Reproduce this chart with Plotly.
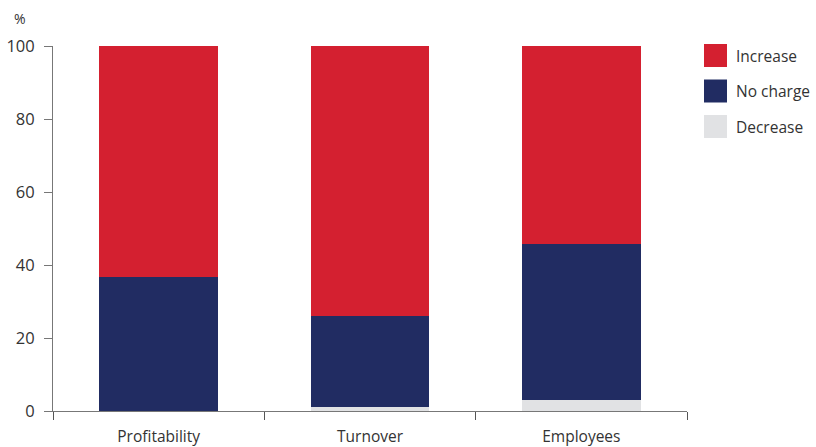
import plotly.graph_objects as go

categories = ["Profitability", "Turnover", "Employees"]
decrease = [0.0, 1.0, 3.1]
no_change = [36.8, 25.1, 42.7]
increase = [63.2, 73.9, 54.2]
series_names = ["Increase", "No charge", "Decrease"]
y_ticks = [0, 20, 40, 60, 80, 100]

colors = {"Increase": "#D42030", "No charge": "#212C62", "Decrease": "#E1E2E4"}
font_family = "'Open Sans', 'Noto Sans', sans-serif"
text_color = "#333333"

W, H = 816, 447
ML, MR, MT, MB = 53, 129, 46, 36
PW, PH = W - ML - MR, H - MT - MB

fig = go.Figure()
for name, vals in [("Decrease", decrease), ("No charge", no_change), ("Increase", increase)]:
    fig.add_trace(go.Bar(x=categories, y=vals, name=name, marker_color=colors[name],
                         marker_line_width=0, showlegend=False))

fig.update_layout(
    barmode="stack", bargap=0.44,
    width=W, height=H,
    margin=dict(l=ML, r=MR, t=MT, b=MB, autoexpand=False),
    plot_bgcolor="white", paper_bgcolor="white",
    font=dict(family=font_family, size=15, color=text_color),
)
fig.update_xaxes(showline=True, linecolor="#777", linewidth=1, ticks="outside", tickson="boundaries",
                 ticklen=8, tickcolor="#555", showgrid=False, ticklabelstandoff=11,
                 tickfont=dict(size=15.5))
fig.update_yaxes(range=[0, 100], tickvals=y_ticks, showline=True, linecolor="#777", linewidth=1,
                 ticks="outside", ticklen=8, tickcolor="#777", showgrid=False, zeroline=False,
                 ticklabelstandoff=6, tickfont=dict(size=16.5))

fig.add_annotation(text="%", xref="paper", yref="paper", x=(20 - ML) / PW, y=1 + (MT - 19) / PH,
                   showarrow=False, font=dict(size=14), xanchor="center", yanchor="middle")

# legend drawn as shapes + labels
for i, name in enumerate(series_names):
    y0 = 44 + i * 35.5
    py_top = 1 - (y0 - MT) / PH
    py_bot = 1 - (y0 + 23 - MT) / PH
    px0 = (704 - ML) / PW
    px1 = (727 - ML) / PW
    fig.add_shape(type="rect", xref="paper", yref="paper", x0=px0, x1=px1, y0=py_bot, y1=py_top,
                  fillcolor=colors[name], line_width=0)
    fig.add_annotation(text=name, xref="paper", yref="paper", x=(734 - ML) / PW,
                       y=(py_top + py_bot) / 2, xanchor="left", yanchor="middle", showarrow=False,
                       font=dict(size=15.5))

fig.write_html("out.html", config={"displayModeBar": False},
               post_script="document.body.style.margin='0';document.body.style.overflow='hidden';")
